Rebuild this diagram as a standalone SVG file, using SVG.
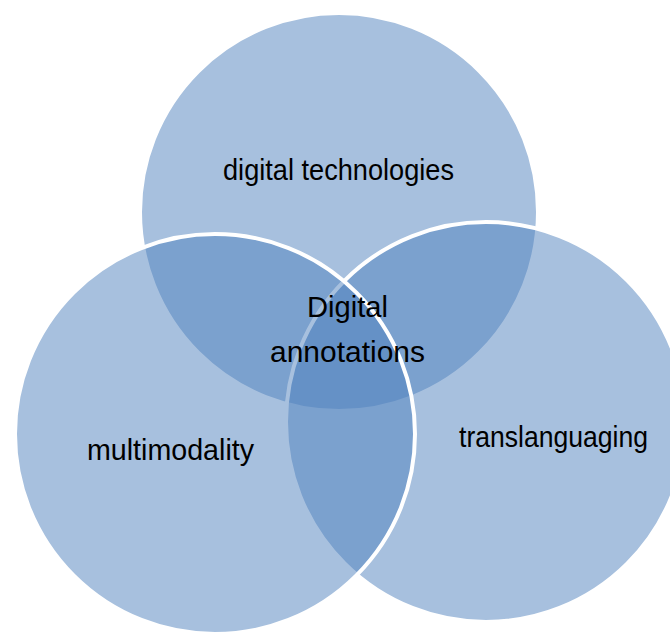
<svg xmlns="http://www.w3.org/2000/svg" width="670" height="635" viewBox="0 0 670 635">
  <style>
    .set { fill: #4F81BD; fill-opacity: 0.5; stroke: #FFFFFF; stroke-width: 4; }
    .lbl { font-family: "Liberation Sans", Arial, sans-serif; font-size: 29px; fill: #000000; text-anchor: middle; }
  </style>
  <rect width="670" height="635" fill="#FFFFFF"/>
  <!-- three overlapping sets; drawing order sets which outline lies on top -->
  <g id="set-digital-technologies">
    <circle class="set" cx="339" cy="212" r="199"/>
  </g>
  <g id="set-translanguaging">
    <circle class="set" cx="486" cy="422" r="200"/>
  </g>
  <g id="set-multimodality">
    <circle class="set" cx="215" cy="434" r="200"/>
  </g>
  <g id="labels">
    <text class="lbl" x="338.5" y="180" textLength="231" lengthAdjust="spacingAndGlyphs">digital technologies</text>
    <text class="lbl" x="170.5" y="460" textLength="167" lengthAdjust="spacingAndGlyphs">multimodality</text>
    <text class="lbl" x="553.5" y="447" textLength="189" lengthAdjust="spacingAndGlyphs">translanguaging</text>
    <text class="lbl" x="347.5" y="317" textLength="81" lengthAdjust="spacingAndGlyphs">Digital</text>
    <text class="lbl" x="347.5" y="362" textLength="155" lengthAdjust="spacingAndGlyphs">annotations</text>
  </g>
</svg>
